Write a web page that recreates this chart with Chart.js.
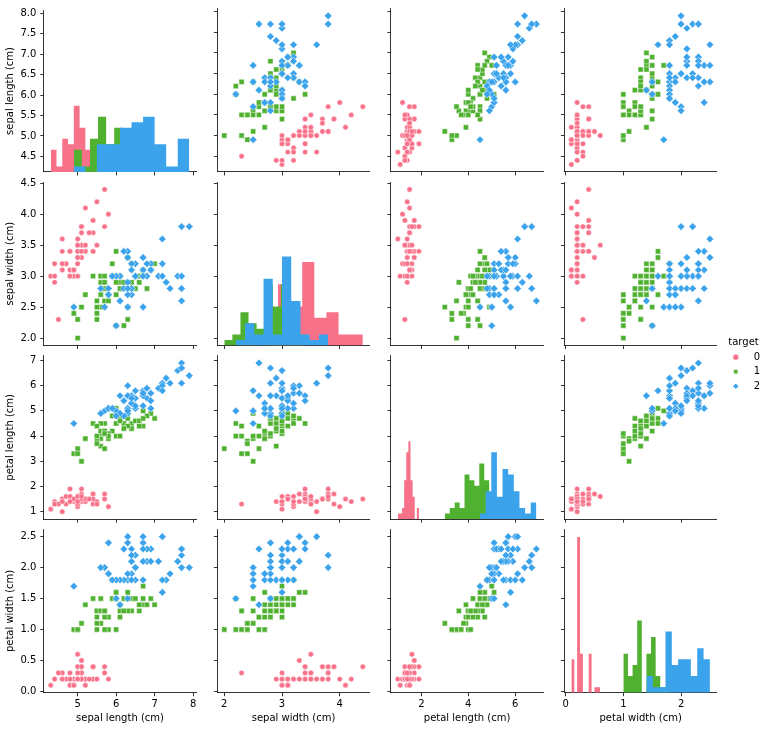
<!DOCTYPE html>
<html>
<head>
<meta charset="utf-8">
<script src="https://cdn.jsdelivr.net/npm/chart.js@4.4.1/dist/chart.umd.min.js"></script>
<style>
html, body { margin: 0; padding: 0; background: #ffffff; }
#wrap { position: relative; width: 767px; height: 729px; overflow: hidden; background: #ffffff; }
#wrap canvas { position: absolute; }
</style>
</head>
<body>
<div id="wrap"></div>
<script>
// ---------------- DATA ----------------
const featureNames = ['sepal length (cm)', 'sepal width (cm)', 'petal length (cm)', 'petal width (cm)'];
const targetNames = ['0', '1', '2'];

const sepalLength = [
  5.1,4.9,4.7,4.6,5.0,5.4,4.6,5.0,4.4,4.9,5.4,4.8,4.8,4.3,5.8,5.7,5.4,5.1,5.7,5.1,5.4,5.1,4.6,5.1,4.8,
  5.0,5.0,5.2,5.2,4.7,4.8,5.4,5.2,5.5,4.9,5.0,5.5,4.9,4.4,5.1,5.0,4.5,4.4,5.0,5.1,4.8,5.1,4.6,5.3,5.0,
  7.0,6.4,6.9,5.5,6.5,5.7,6.3,4.9,6.6,5.2,5.0,5.9,6.0,6.1,5.6,6.7,5.6,5.8,6.2,5.6,5.9,6.1,6.3,6.1,6.4,
  6.6,6.8,6.7,6.0,5.7,5.5,5.5,5.8,6.0,5.4,6.0,6.7,6.3,5.6,5.5,5.5,6.1,5.8,5.0,5.6,5.7,5.7,6.2,5.1,5.7,
  6.3,5.8,7.1,6.3,6.5,7.6,4.9,7.3,6.7,7.2,6.5,6.4,6.8,5.7,5.8,6.4,6.5,7.7,7.7,6.0,6.9,5.6,7.7,6.3,6.7,
  7.2,6.2,6.1,6.4,7.2,7.4,7.9,6.4,6.3,6.1,7.7,6.3,6.4,6.0,6.9,6.7,6.9,5.8,6.8,6.7,6.7,6.3,6.5,6.2,5.9
];
const sepalWidth = [
  3.5,3.0,3.2,3.1,3.6,3.9,3.4,3.4,2.9,3.1,3.7,3.4,3.0,3.0,4.0,4.4,3.9,3.5,3.8,3.8,3.4,3.7,3.6,3.3,3.4,
  3.0,3.4,3.5,3.4,3.2,3.1,3.4,4.1,4.2,3.1,3.2,3.5,3.1,3.0,3.4,3.5,2.3,3.2,3.5,3.8,3.0,3.8,3.2,3.7,3.3,
  3.2,3.2,3.1,2.3,2.8,2.8,3.3,2.4,2.9,2.7,2.0,3.0,2.2,2.9,2.9,3.1,3.0,2.7,2.2,2.5,3.2,2.8,2.5,2.8,2.9,
  3.0,2.8,3.0,2.9,2.6,2.4,2.4,2.7,2.7,3.0,3.4,3.1,2.3,3.0,2.5,2.6,3.0,2.6,2.3,2.7,3.0,2.9,2.9,2.5,2.8,
  3.3,2.7,3.0,2.9,3.0,3.0,2.5,2.9,2.5,3.6,3.2,2.7,3.0,2.5,2.8,3.2,3.0,3.8,2.6,2.2,3.2,2.8,2.8,2.7,3.3,
  3.2,2.8,3.0,2.8,3.0,2.8,3.8,2.8,2.8,2.6,3.0,3.4,3.1,3.0,3.1,3.1,3.1,2.7,3.2,3.3,3.0,2.5,3.0,3.4,3.0
];
const petalLength = [
  1.4,1.4,1.3,1.5,1.4,1.7,1.4,1.5,1.4,1.5,1.5,1.6,1.4,1.1,1.2,1.5,1.3,1.4,1.7,1.5,1.7,1.5,1.0,1.7,1.9,
  1.6,1.6,1.5,1.4,1.6,1.6,1.5,1.5,1.4,1.5,1.2,1.3,1.5,1.3,1.5,1.3,1.3,1.3,1.6,1.9,1.4,1.6,1.4,1.5,1.4,
  4.7,4.5,4.9,4.0,4.6,4.5,4.7,3.3,4.6,3.9,3.5,4.2,4.0,4.7,3.6,4.4,4.5,4.1,4.5,3.9,4.8,4.0,4.9,4.7,4.3,
  4.4,4.8,5.0,4.5,3.5,3.8,3.7,3.9,5.1,4.5,4.5,4.7,4.4,4.1,4.0,4.4,4.6,4.0,3.3,4.2,4.2,4.2,4.3,3.0,4.1,
  6.0,5.1,5.9,5.6,5.8,6.6,4.5,6.3,5.8,6.1,5.1,5.3,5.5,5.0,5.1,5.3,5.5,6.7,6.9,5.0,5.7,4.9,6.7,4.9,5.7,
  6.0,4.8,4.9,5.6,5.8,6.1,6.4,5.6,5.1,5.6,6.1,5.6,5.5,4.8,5.4,5.6,5.1,5.1,5.9,5.7,5.2,5.0,5.2,5.4,5.1
];
const petalWidth = [
  0.2,0.2,0.2,0.2,0.2,0.4,0.3,0.2,0.2,0.1,0.2,0.2,0.1,0.1,0.2,0.4,0.4,0.3,0.3,0.3,0.2,0.4,0.2,0.5,0.2,
  0.2,0.4,0.2,0.2,0.2,0.2,0.4,0.1,0.2,0.1,0.2,0.2,0.1,0.2,0.2,0.3,0.3,0.2,0.6,0.4,0.3,0.2,0.2,0.2,0.2,
  1.4,1.5,1.5,1.3,1.5,1.3,1.6,1.0,1.3,1.4,1.0,1.5,1.0,1.4,1.3,1.4,1.5,1.0,1.5,1.1,1.8,1.3,1.5,1.2,1.3,
  1.4,1.4,1.7,1.5,1.0,1.1,1.0,1.2,1.6,1.5,1.6,1.5,1.3,1.3,1.3,1.2,1.4,1.2,1.0,1.3,1.2,1.3,1.3,1.1,1.3,
  2.5,1.9,2.1,1.8,2.2,2.1,1.7,1.8,1.8,2.5,2.0,1.9,2.1,2.0,2.4,2.3,1.8,2.2,2.3,1.5,2.3,2.0,2.0,1.8,2.1,
  1.8,1.8,1.8,2.1,1.6,1.9,2.0,2.2,1.5,1.4,2.3,2.4,1.8,1.8,2.1,2.4,2.3,1.9,2.3,2.5,2.3,1.9,2.0,2.3,1.8
];
const target = [
  0,0,0,0,0,0,0,0,0,0,0,0,0,0,0,0,0,0,0,0,0,0,0,0,0,
  0,0,0,0,0,0,0,0,0,0,0,0,0,0,0,0,0,0,0,0,0,0,0,0,0,
  1,1,1,1,1,1,1,1,1,1,1,1,1,1,1,1,1,1,1,1,1,1,1,1,1,
  1,1,1,1,1,1,1,1,1,1,1,1,1,1,1,1,1,1,1,1,1,1,1,1,1,
  2,2,2,2,2,2,2,2,2,2,2,2,2,2,2,2,2,2,2,2,2,2,2,2,2,
  2,2,2,2,2,2,2,2,2,2,2,2,2,2,2,2,2,2,2,2,2,2,2,2,2
];

// tick labels (x axes: bottom row, y axes: first column)
const sepalLengthXTicks = ['5', '6', '7', '8'];
const sepalWidthXTicks  = ['2', '3', '4'];
const petalLengthXTicks = ['2', '4', '6'];
const petalWidthXTicks  = ['0', '1', '2'];
const sepalLengthYTicks = ['4.5', '5.0', '5.5', '6.0', '6.5', '7.0', '7.5', '8.0'];
const sepalWidthYTicks  = ['2.0', '2.5', '3.0', '3.5', '4.0', '4.5'];
const petalLengthYTicks = ['1', '2', '3', '4', '5', '6', '7'];
const petalWidthYTicks  = ['0.0', '0.5', '1.0', '1.5', '2.0', '2.5'];

// ---------------- STYLE / LAYOUT ----------------
const COLORS = ['#f77189', '#50b131', '#3ba3ec'];
const MARKERS = ['circle', 'rect', 'rectRot'];
const MARKER_R = [2.7, 3.7, 3.8];
const FONT = "'DejaVu Sans', 'Liberation Sans', sans-serif";
const INK = '#000000';
const CANVAS_W = 767, CANVAS_H = 729;
const AX_LEFT = [43.8, 217.35, 390.9, 564.45];
const AX_TOP = [8.4, 182.0, 355.6, 529.2];
const AX_W = 152.4, AX_H = 163.5;
const Y_BAND = 43.8, X_BAND = 35.3;

Chart.defaults.font.family = FONT;
Chart.defaults.font.size = 10;
Chart.defaults.color = INK;

const features = [sepalLength, sepalWidth, petalLength, petalWidth];
const xTickSets = [sepalLengthXTicks, sepalWidthXTicks, petalLengthXTicks, petalWidthXTicks];
const yTickSets = [sepalLengthYTicks, sepalWidthYTicks, petalLengthYTicks, petalWidthYTicks];
const species = [0, 1, 2];

// axis limits like matplotlib autoscale (5% margins)
const limits = features.map(v => {
  const lo = Math.min(...v), hi = Math.max(...v), m = (hi - lo) * 0.05;
  return [lo - m, hi + m];
});

// numpy-style histogram with 10 equal bins
function histogram(values, nBins) {
  const lo = Math.min(...values), hi = Math.max(...values);
  const step = (hi - lo) / nBins;
  const edges = [];
  for (let i = 0; i <= nBins; i++) edges.push(i * step + lo);
  edges[nBins] = hi;
  const norm = nBins / (hi - lo);
  const counts = new Array(nBins).fill(0);
  values.forEach(v => {
    let k = Math.trunc((v - lo) * norm);
    if (k === nBins) k -= 1;
    if (v < edges[k]) k -= 1;
    else if (k !== nBins - 1 && v >= edges[k + 1]) k += 1;
    counts[k] += 1;
  });
  return { edges, counts };
}
const N_BINS = 10;
const valuesOf = (f, s) => features[f].filter((_, i) => target[i] === s);
const hists = features.map((_, f) => species.map(s => histogram(valuesOf(f, s), N_BINS)));
const histTop = Math.max(...hists.flat().map(h => Math.max(...h.counts))) * 1.05;

function axisCfg(axis, feat, showLabels) {
  const labels = axis === 'x' ? xTickSets[feat] : yTickSets[feat];
  return {
    type: 'linear',
    position: axis === 'x' ? 'bottom' : 'left',
    min: limits[feat][0],
    max: limits[feat][1],
    afterBuildTicks: s => { s.ticks = labels.map(l => ({ value: parseFloat(l) })); },
    afterFit: s => { if (axis === 'x') s.height = X_BAND; else s.width = Y_BAND; },
    grid: { display: true, drawOnChartArea: false, drawTicks: true, tickLength: 3.5, tickWidth: 0.8, tickColor: INK },
    border: { display: true, color: INK, width: 0.8 },
    ticks: {
      display: showLabels, autoSkip: false, maxRotation: 0, minRotation: 0,
      padding: axis === 'x' ? 2 : 4, color: INK, font: { family: FONT, size: 10 },
      callback: (v, i) => labels[i]
    },
    title: {
      display: showLabels, text: featureNames[feat], color: INK,
      font: { family: FONT, size: 10 }, padding: { top: 4, bottom: 4 }
    }
  };
}

const wrap = document.getElementById('wrap');
function makeCanvas(left, top, w, h) {
  const c = document.createElement('canvas');
  c.width = w; c.height = h;
  c.style.left = left + 'px'; c.style.top = top + 'px';
  c.style.width = w + 'px'; c.style.height = h + 'px';
  wrap.appendChild(c);
  return c;
}

for (let r = 0; r < 4; r++) {
  for (let c = 0; c < 4; c++) {
    const L = AX_LEFT[c], T = AX_TOP[r];
    const padding = {
      left: L - Y_BAND, top: T,
      right: CANVAS_W - L - AX_W,
      bottom: CANVAS_H - T - AX_H - X_BAND
    };
    const scales = { x: axisCfg('x', c, r === 3), y: axisCfg('y', r, c === 0) };
    let type, datasets;
    if (r === c) {
      type = 'line';
      scales.yh = { type: 'linear', display: false, min: 0, max: histTop };
      datasets = species.map(s => {
        const h = hists[r][s];
        const pts = h.counts.map((n, k) => ({ x: h.edges[k], y: n }));
        pts.push({ x: h.edges[N_BINS], y: 0 });
        return {
          label: targetNames[s], data: pts, xAxisID: 'x', yAxisID: 'yh',
          stepped: 'before', fill: 'origin', tension: 0,
          backgroundColor: COLORS[s], borderColor: 'rgba(0,0,0,0)', borderWidth: 0,
          pointRadius: 0, order: 2 - s
        };
      });
    } else {
      type = 'scatter';
      datasets = species.map(s => ({
        label: targetNames[s],
        data: target.map((t, i) => t === s ? { x: features[c][i], y: features[r][i] } : null).filter(p => p),
        pointStyle: MARKERS[s], pointRadius: MARKER_R[s],
        pointBackgroundColor: COLORS[s], backgroundColor: COLORS[s],
        pointBorderColor: '#ffffff', borderColor: '#ffffff', pointBorderWidth: 0.5,
        order: 2 - s
      }));
    }
    new Chart(makeCanvas(0, 0, CANVAS_W, CANVAS_H), {
      type,
      data: { datasets },
      options: {
        responsive: false, animation: false, devicePixelRatio: 1, events: [],
        layout: { padding },
        plugins: { legend: { display: false }, tooltip: { enabled: false } },
        scales
      }
    });
  }
}

// legend
new Chart(makeCanvas(720, 330, 80, 80), {
  type: 'scatter',
  data: { datasets: [] },
  options: {
    responsive: false, animation: false, devicePixelRatio: 1, events: [],
    layout: { padding: { left: 8.3, top: 7.7 } },
    scales: { x: { display: false }, y: { display: false } },
    plugins: {
      tooltip: { enabled: false },
      legend: {
        display: true, position: 'left', align: 'start', maxWidth: 60,
        title: { display: true, text: 'target', position: 'start', color: INK,
                 font: { family: FONT, size: 10, lineHeight: 1.0 }, padding: 0 },
        labels: {
          usePointStyle: true, boxWidth: 6, boxHeight: 4.2, padding: 4.5,
          textAlign: 'right', color: INK, font: { family: FONT, size: 10 },
          generateLabels: () => targetNames.map((n, i) => ({
            text: n, fillStyle: COLORS[i], strokeStyle: '#ffffff', lineWidth: 0.5,
            pointStyle: MARKERS[i], hidden: false, datasetIndex: i, fontColor: INK
          }))
        }
      }
    }
  }
});
</script>
</body>
</html>
